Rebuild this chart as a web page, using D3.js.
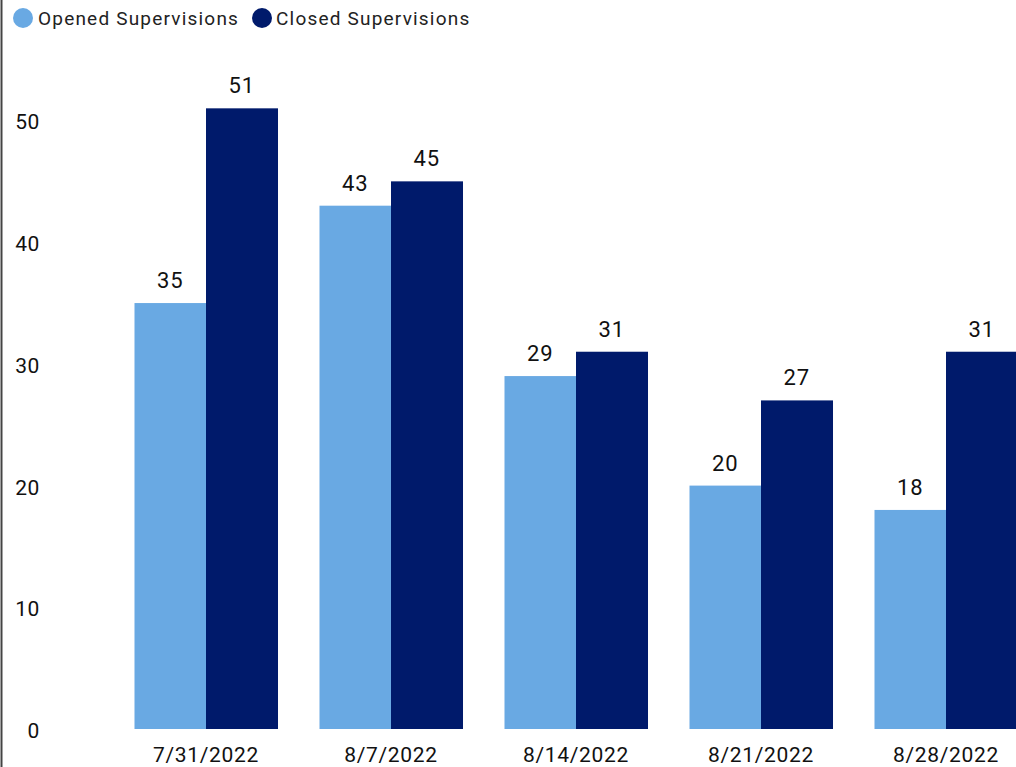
<!DOCTYPE html>
<html><head><meta charset="utf-8">
<script src="https://cdn.jsdelivr.net/npm/d3@7"></script>
<style>html,body{margin:0;padding:0;background:#fff;}svg{display:block;font-family:Roboto,"DejaVu Sans",sans-serif;}</style>
</head><body>
<svg id="chart" width="1016" height="767"></svg>
<script>
const categories = ["7/31/2022","8/7/2022","8/14/2022","8/21/2022","8/28/2022"];
const seriesNames = ["Opened Supervisions","Closed Supervisions"];
const opened = [35,43,29,20,18];
const closed = [51,45,31,27,31];
const yTicks = [0,10,20,30,40,50];
const colors = ["#69A9E3","#001A6B"];

const svg = d3.select("#chart");
const W = 1016, H = 767;

// left frame line
svg.append("line").attr("x1",1.5).attr("x2",1.5).attr("y1",0).attr("y2",H)
  .attr("stroke","#444").attr("stroke-width",2);

const x0 = d3.scaleBand().domain(categories).range([113.5,1038.5]).paddingInner(0.227).paddingOuter(0.1135);
const x1 = d3.scaleBand().domain(seriesNames).range([0,x0.bandwidth()]);
const y = d3.scaleLinear().domain([0,50]).range([729,120.5]);

const yAxis = svg.append("g").attr("transform","translate(40,0)")
  .call(d3.axisLeft(y).tickValues(yTicks).tickSize(0).tickPadding(0));
yAxis.select(".domain").remove();
yAxis.selectAll("text").attr("font-size",21).attr("font-family","Roboto").attr("fill","#111")
  .attr("dy","0.4em").style("letter-spacing","0.6px");

const xAxis = svg.append("g").attr("transform","translate(0,742)")
  .call(d3.axisBottom(x0).tickSize(0).tickPadding(0));
xAxis.select(".domain").remove();
xAxis.selectAll("text").attr("font-size",21).attr("font-family","Roboto").attr("fill","#111")
  .attr("dy","0.95em").style("letter-spacing","0.7px");

const rows = categories.map((c,i)=>({cat:c, vals:[opened[i],closed[i]]}));
const g = svg.selectAll("g.grp").data(rows).join("g").attr("class","grp")
  .attr("transform",d=>`translate(${x0(d.cat)},0)`);
g.selectAll("rect").data(d=>d.vals.map((v,j)=>({s:seriesNames[j],v,j}))).join("rect")
  .attr("x",d=>x1(d.s)).attr("width",x1.bandwidth()+0.5)
  .attr("y",d=>y(d.v)).attr("height",d=>y(0)-y(d.v))
  .attr("fill",d=>colors[d.j]);
g.selectAll("text.val").data(d=>d.vals.map((v,j)=>({s:seriesNames[j],v,j}))).join("text")
  .attr("class","val")
  .attr("x",d=>x1(d.s)+x1.bandwidth()/2).attr("y",d=>y(d.v)-15)
  .attr("text-anchor","middle").attr("font-size",22).attr("fill","#111")
  .style("letter-spacing","0.8px")
  .text(d=>d.v);

// legend
const legPos = [[23,38],[262,276]];
const leg = svg.selectAll("g.leg").data(seriesNames).join("g").attr("class","leg");
leg.append("circle").attr("cx",(d,i)=>legPos[i][0]).attr("cy",18).attr("r",10).attr("fill",(d,i)=>colors[i]);
leg.append("text").attr("x",(d,i)=>legPos[i][1]).attr("y",18).attr("dy","0.35em")
  .attr("font-size",19).attr("fill","#222").style("letter-spacing","1.2px").text(d=>d);
</script>
</body></html>
